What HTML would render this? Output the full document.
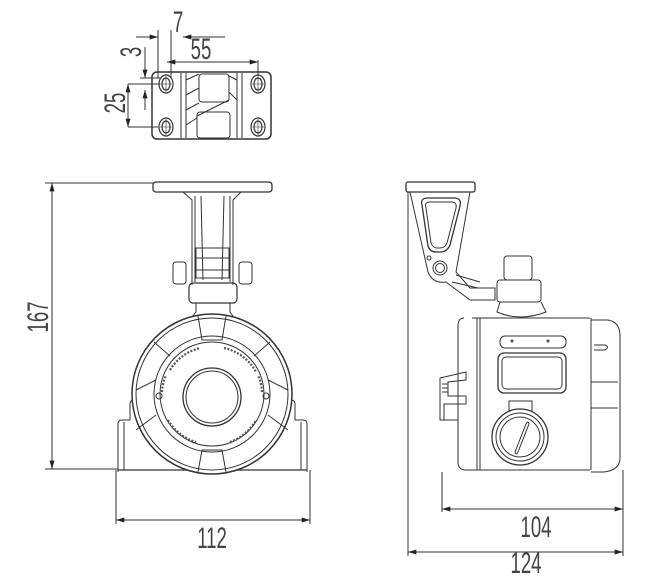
<!DOCTYPE html>
<html><head><style>
html,body{margin:0;padding:0;background:#fff;}
svg{display:block;}
text{font-family:"Liberation Sans",sans-serif;fill:#444;}
</style></head><body>
<svg width="650" height="576" viewBox="0 0 650 576" xmlns="http://www.w3.org/2000/svg">
<defs>
<marker id="a" viewBox="0 0 10 6" refX="10" refY="3" markerWidth="10" markerHeight="5" orient="auto-start-reverse" markerUnits="userSpaceOnUse"><path d="M0,0L10,3L0,6z" fill="#222"/></marker>
</defs>
<g fill="none" stroke="#333" stroke-width="1">
<rect x="152" y="72" width="119" height="67" rx="5" stroke-width="1.5"/>
<line x1="181" y1="73" x2="181" y2="138"/><line x1="242" y1="73" x2="242" y2="138"/>
<line x1="186" y1="73" x2="186" y2="138"/><line x1="237" y1="73" x2="237" y2="138"/>
<rect x="199" y="74" width="30" height="28" rx="3"/>
<rect x="197" y="112" width="33" height="26" rx="3"/>
<path d="M186,80 L199,74 M186,95 L199,88 M186,110 L199,103 M186,125 L197,118 M229,100 L197,116 M237,80 L229,76 M237,100 L229,92"/>
<g stroke-width="1.2">
<ellipse cx="166" cy="84" rx="7" ry="9"/><ellipse cx="166" cy="84" rx="4" ry="6"/>
<ellipse cx="258" cy="84" rx="7" ry="9"/><ellipse cx="258" cy="84" rx="4" ry="6"/>
<ellipse cx="166" cy="127" rx="7" ry="9"/><ellipse cx="166" cy="127" rx="4" ry="6"/>
<ellipse cx="258" cy="127" rx="7" ry="9"/><ellipse cx="258" cy="127" rx="4" ry="6"/>
</g>
<path d="M166,76v16M160,84h12M258,76v16M252,84h12M166,119v16M160,127h12M258,119v16M252,127h12" stroke-width="0.6"/>
<line x1="136" y1="37" x2="158" y2="37" marker-end="url(#a)"/>
<line x1="183" y1="37" x2="225" y2="37" marker-start="url(#a)"/>
<line x1="158" y1="30" x2="158" y2="78"/><line x1="171" y1="30" x2="171" y2="78"/>
<line x1="167" y1="62" x2="258" y2="62" marker-start="url(#a)" marker-end="url(#a)"/>
<line x1="258" y1="60" x2="258" y2="76"/>
<line x1="145" y1="47" x2="145" y2="78" marker-end="url(#a)"/>
<line x1="145" y1="90" x2="145" y2="110" marker-start="url(#a)"/>
<line x1="140" y1="78" x2="160" y2="78"/><line x1="140" y1="84" x2="160" y2="84"/>
<line x1="128" y1="84" x2="128" y2="127" marker-start="url(#a)" marker-end="url(#a)"/>
<line x1="128" y1="84" x2="158" y2="84"/><line x1="128" y1="127" x2="158" y2="127"/>

<rect x="153" y="182" width="119" height="10" rx="3" stroke-width="1.3"/>
<path d="M183,192 L192,200 L192,285 M241,192 L233,200 L233,285 M195,196 L195,282 M230,196 L230,282 M201,196 L203,280 M224,196 L222,280"/>
<rect x="196" y="248" width="33" height="30"/>
<line x1="196" y1="258" x2="229" y2="258"/><line x1="196" y1="270" x2="229" y2="270"/>
<rect x="173" y="262" width="13" height="22" rx="3"/><rect x="239" y="262" width="13" height="22" rx="3"/>
<rect x="189" y="283" width="48" height="20" rx="4" stroke-width="1.2"/>
<path d="M196,303 L196,312 L188,322 L237,322 L230,312 L230,303"/>
<path d="M118,472 L118,424 Q118,420 122,420 L130,420 L130,404 Q130,400 134,400 L140,400"/>
<path d="M307,472 L307,424 Q307,420 303,420 L295,420 L295,404 Q295,400 291,400 L285,400"/>
<line x1="124" y1="422" x2="124" y2="470"/><line x1="301" y1="422" x2="301" y2="470"/>
<line x1="118" y1="470" x2="307" y2="470" stroke-width="1.3"/>
<circle cx="212" cy="394" r="80" fill="#fff" stroke-width="1.5"/>
<circle cx="212" cy="394" r="76"/>
<circle cx="212" cy="394" r="58"/>
<circle cx="212" cy="394" r="52"/>
<circle cx="212" cy="397" r="29" stroke-width="1.3"/>
<circle cx="212" cy="397" r="26"/>
<path d="M198,316 L202,340 L222,340 L226,316 M198,472 L202,450 L222,450 L226,472"/>
<path d="M136,390 L156,380 M136,430 L156,415 M288,390 L268,380 M288,430 L268,415 M154,342 L170,356 M270,342 L254,356"/>
<circle cx="159" cy="396" r="3"/><circle cx="266" cy="396" r="3"/>
<g stroke-width="2.2" stroke="#555" stroke-dasharray="2 1.5">
<path d="M170,370 A48,48 0 0 1 200,348"/><path d="M224,348 A48,48 0 0 1 256,372"/>
<path d="M168,420 A48,48 0 0 0 196,442"/><path d="M230,442 A48,48 0 0 0 256,420"/>
<path d="M162,392 A48,48 0 0 1 166,375"/><path d="M262,392 A48,48 0 0 0 258,375"/>
</g>
<line x1="45" y1="183" x2="153" y2="183"/>
<line x1="45" y1="469" x2="118" y2="469"/>
<line x1="52" y1="183" x2="52" y2="469" marker-start="url(#a)" marker-end="url(#a)"/>
<line x1="116" y1="470" x2="116" y2="524"/><line x1="310" y1="470" x2="310" y2="524"/>
<line x1="116" y1="520" x2="310" y2="520" marker-start="url(#a)" marker-end="url(#a)"/>

<rect x="406" y="182" width="69" height="10" rx="2" stroke-width="1.3"/>
<path d="M410,192 L428,272 Q433,284 446,282 L470,300 L495,300 L495,288 L470,288 L456,272 L470,192"/>
<path d="M422,205 Q420,198 428,198 L454,198 Q462,198 460,206 L450,245 Q447,252 440,252 L436,252 Q430,252 428,246 Z" stroke-width="1.3"/>
<path d="M426,208 Q424,202 430,202 L452,202 Q457,202 456,208 L447,243 Q445,248 440,248 L437,248 Q433,248 431,243 Z"/>
<circle cx="440" cy="268" r="7"/><circle cx="440" cy="268" r="4.5"/><circle cx="429" cy="258" r="2"/>
<path d="M456,275 L480,282 M452,282 L478,288"/>
<rect x="504" y="256" width="28" height="24" rx="3"/>
<rect x="497" y="280" width="44" height="22" rx="3"/>
<path d="M500,302 L497,312 Q520,322 546,312 L541,302"/>
<path d="M472,318 L590,318 M464,318 Q458,318 458,326 L458,462 Q458,470 466,470 L590,470"/>
<line x1="477" y1="318" x2="477" y2="470"/><line x1="480" y1="318" x2="480" y2="470"/>
<line x1="591" y1="318" x2="591" y2="470"/>
<path d="M591,320 L608,320 Q620,322 620,336 L620,458 Q620,470 604,472 L591,472"/>
<path d="M591,382 L618,382 M591,408 L618,408 M591,322 L591,382"/>
<path d="M594,345 L605,345 Q610,347 605,350 L594,350"/>
<rect x="500" y="336" width="66" height="12" rx="5"/>
<circle cx="512" cy="341" r="1"/><circle cx="548" cy="341" r="1"/>
<rect x="498" y="353" width="68" height="40" rx="6" stroke-width="1.3"/>
<rect x="502" y="357" width="60" height="32" rx="4"/>
<path d="M509,412 L509,401 L532,401 L532,412"/>
<circle cx="520" cy="437" r="28" stroke-width="1.3"/><circle cx="520" cy="437" r="24"/><circle cx="520" cy="437" r="20"/>
<path d="M515,452 L526,424 Q528,420 529,424 L518,452 Q516,456 515,452 Z"/>
<path d="M440,378 L466,372 L466,380 L448,382 L448,396 L466,396 L466,404 L444,404 L444,420 M440,378 L440,420 L458,420"/>
<path d="M442,384 h6 M442,388 h6 M442,392 h6"/>
<line x1="408" y1="192" x2="408" y2="556"/>
<line x1="623" y1="470" x2="623" y2="556"/>
<line x1="442" y1="472" x2="442" y2="512"/>
<line x1="442" y1="509" x2="623" y2="509" marker-start="url(#a)" marker-end="url(#a)"/>
<line x1="408" y1="552" x2="623" y2="552" marker-start="url(#a)" marker-end="url(#a)"/>
</g>
<g font-size="30" text-anchor="middle">
<text transform="translate(178,32) scale(0.62,1)">7</text>
<text transform="translate(201,59) scale(0.62,1)">55</text>
<text transform="translate(141,52) rotate(-90) scale(0.62,1)">3</text>
<text transform="translate(125,103) rotate(-90) scale(0.62,1)">25</text>
<text transform="translate(48,317) rotate(-90) scale(0.62,1)">167</text>
<text transform="translate(212,548) scale(0.62,1)">112</text>
<text transform="translate(536,537) scale(0.62,1)">104</text>
<text transform="translate(526,573) scale(0.62,1)">124</text>
</g>
</svg>
</body></html>
